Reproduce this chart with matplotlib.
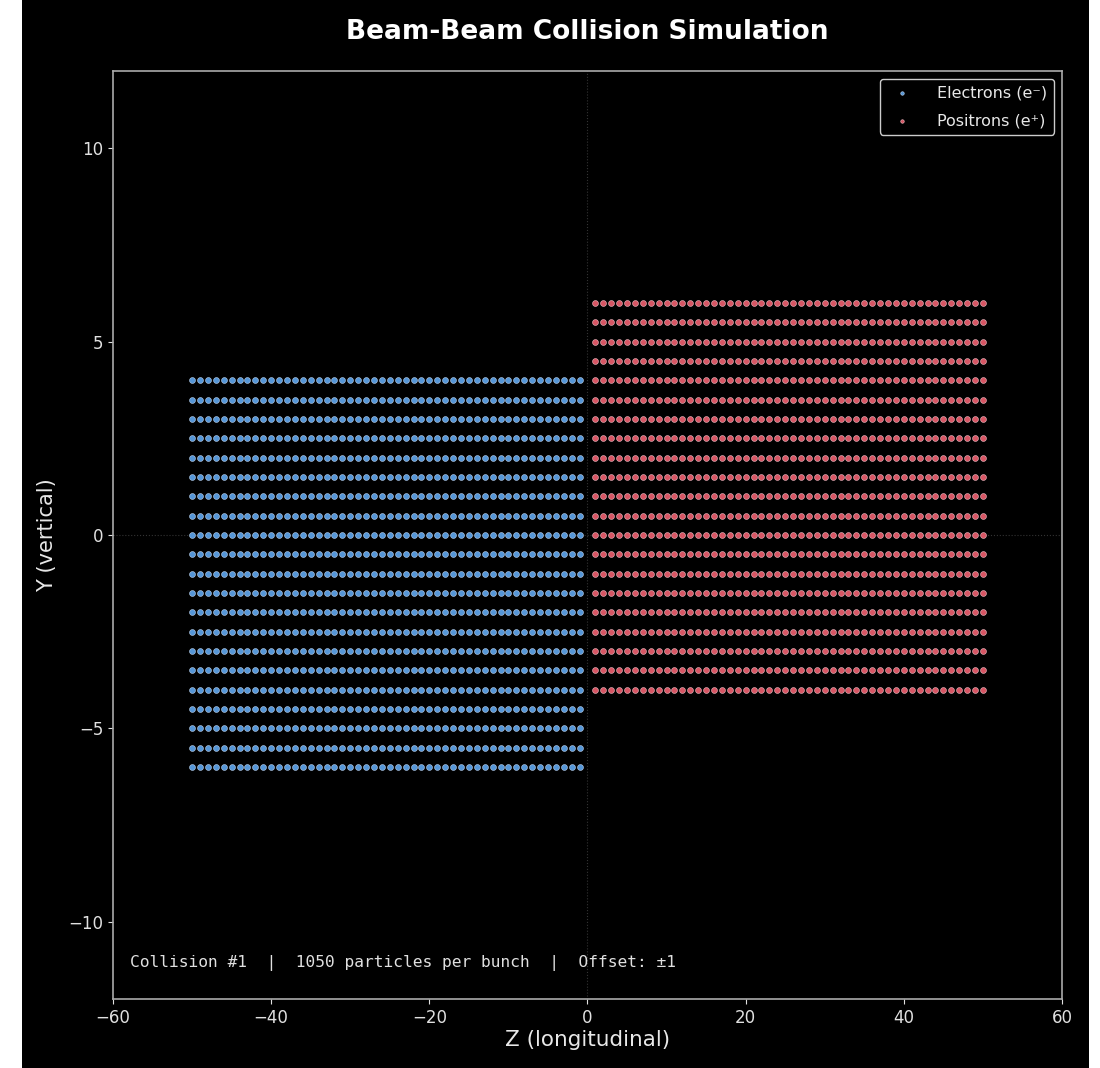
import numpy as np
import matplotlib
matplotlib.use("Agg")
import matplotlib.pyplot as plt
from matplotlib.patches import Rectangle

# bunch lattice (z columns, y rows)
electron_z = [-50, -49, -48, -47, -46, -45, -44, -43, -42, -41,
              -40, -39, -38, -37, -36, -35, -34, -33, -32, -31,
              -30, -29, -28, -27, -26, -25, -24, -23, -22, -21,
              -20, -19, -18, -17, -16, -15, -14, -13, -12, -11,
              -10, -9, -8, -7, -6, -5, -4, -3, -2, -1]
electron_y = [-6.0, -5.5, -5.0, -4.5, -4.0, -3.5, -3.0, -2.5, -2.0, -1.5, -1.0,
              -0.5, 0.0, 0.5, 1.0, 1.5, 2.0, 2.5, 3.0, 3.5, 4.0]
positron_z = [1, 2, 3, 4, 5, 6, 7, 8, 9, 10,
              11, 12, 13, 14, 15, 16, 17, 18, 19, 20,
              21, 22, 23, 24, 25, 26, 27, 28, 29, 30,
              31, 32, 33, 34, 35, 36, 37, 38, 39, 40,
              41, 42, 43, 44, 45, 46, 47, 48, 49, 50]
positron_y = [-4.0, -3.5, -3.0, -2.5, -2.0, -1.5, -1.0, -0.5, 0.0, 0.5, 1.0,
              1.5, 2.0, 2.5, 3.0, 3.5, 4.0, 4.5, 5.0, 5.5, 6.0]

x_ticks = [-60, -40, -20, 0, 20, 40, 60]
y_ticks = [-10, -5, 0, 5, 10]

ez, ey = np.meshgrid(electron_z, electron_y)
pz, py = np.meshgrid(positron_z, positron_y)

fig = plt.figure(figsize=(11, 10.68), dpi=100, facecolor="white")
# black canvas with thin white margins left/right, like the reference
fig.patches.append(Rectangle((22 / 1100, 0), (1089 - 22) / 1100, 1,
                             transform=fig.transFigure, facecolor="black",
                             edgecolor="none", zorder=-10))

ax = fig.add_axes([113 / 1100, 1 - 999 / 1068, 949 / 1100, 928 / 1068])
ax.set_facecolor("black")

ax.scatter(ez.ravel(), ey.ravel(), s=18, c="#5fa8f0", edgecolors="#cfe4ff",
           linewidths=0.4, alpha=0.9, label="Electrons (e\u207b)", zorder=3)
ax.scatter(pz.ravel(), py.ravel(), s=18, c="#f06070", edgecolors="#ffd0d8",
           linewidths=0.4, alpha=0.9, label="Positrons (e\u207a)", zorder=3)

ax.axhline(0, color="gray", linestyle=":", linewidth=0.8, alpha=0.4, zorder=1)
ax.axvline(0, color="gray", linestyle=":", linewidth=0.8, alpha=0.4, zorder=1)

ax.set_xlim(-60, 60)
ax.set_ylim(-12, 12)
ax.set_xticks(x_ticks)
ax.set_yticks(y_ticks)
ax.tick_params(colors="#e0e0e0", labelsize=12)
for sp in ax.spines.values():
    sp.set_color("#aaaaaa")
    sp.set_linewidth(1.2)

ax.set_xlabel("Z (longitudinal)", color="#e8e8e8", fontsize=15.5, labelpad=2)
ax.set_ylabel("Y (vertical)", color="#e8e8e8", fontsize=15, labelpad=8)
fig.text(587 / 1100, 1 - 32 / 1068, "Beam-Beam Collision Simulation", ha="center",
         va="center", color="white", fontsize=19, fontweight="bold")

ax.text(0.018, 0.03, "Collision #1  |  1050 particles per bunch  |  Offset: \u00b11",
        transform=ax.transAxes, family="monospace", fontsize=11.7,
        color="#e0e0e0", ha="left", va="bottom")

leg = ax.legend(loc="upper right", facecolor="black", edgecolor="#cccccc",
                fontsize=11.5, markerscale=0.6, framealpha=1,
                borderaxespad=0.5, labelspacing=0.8, handletextpad=1.2)
for t in leg.get_texts():
    t.set_color("#e8e8e8")

fig.savefig("out.png", dpi=100, facecolor=fig.get_facecolor())
